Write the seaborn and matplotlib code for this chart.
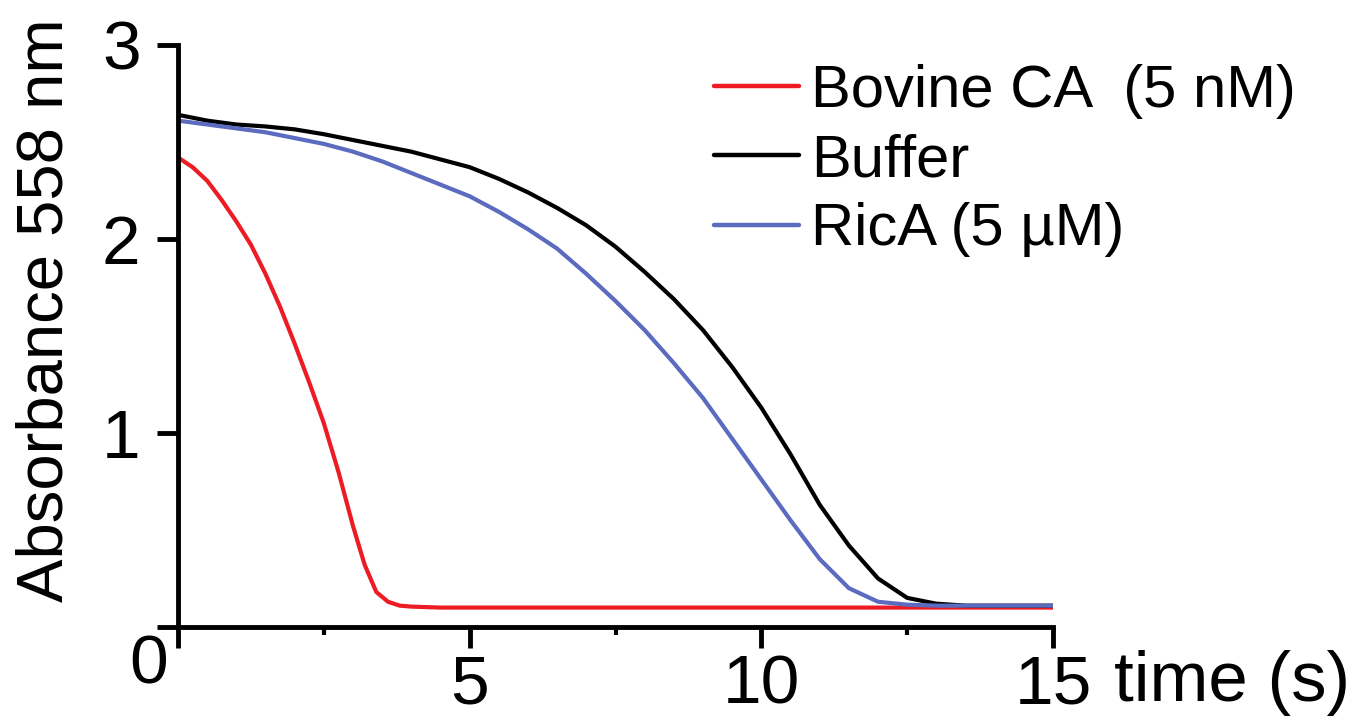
import numpy as np
import pandas as pd
import matplotlib
matplotlib.use('Agg')
import matplotlib.pyplot as plt
import seaborn as sns

# -----------------------------------------
# data (time in s, absorbance at 558 nm)
# -----------------------------------------
t_bovine = [0, 0.25, 0.5, 0.75, 1.0, 1.25, 1.5, 1.75, 2.0, 2.25, 2.5, 2.75, 3.0,
            3.2, 3.4, 3.6, 3.8, 4.0, 4.5, 5, 7.5, 10, 12.5, 15]
a_bovine = [2.42, 2.37, 2.30, 2.20, 2.09, 1.97, 1.82, 1.65, 1.46, 1.26, 1.05, 0.80, 0.52,
            0.32, 0.18, 0.13, 0.11, 0.105, 0.10, 0.10, 0.10, 0.10, 0.10, 0.10]

t_buffer = [0, 0.5, 1, 1.5, 2, 2.5, 3, 3.5, 4, 4.5, 5, 5.5, 6, 6.5, 7, 7.5, 8, 8.5,
            9, 9.5, 10, 10.5, 11, 11.5, 12, 12.5, 13, 13.5, 14, 15]
a_buffer = [2.64, 2.61, 2.59, 2.58, 2.565, 2.54, 2.51, 2.48, 2.45, 2.41, 2.37, 2.31, 2.24,
            2.16, 2.07, 1.96, 1.83, 1.69, 1.53, 1.34, 1.13, 0.89, 0.63, 0.42, 0.25, 0.15,
            0.12, 0.11, 0.11, 0.11]

t_rica = [0, 0.5, 1, 1.5, 2, 2.5, 3, 3.5, 4, 4.5, 5, 5.5, 6, 6.5, 7, 7.5, 8, 8.5,
          9, 9.5, 10, 10.5, 11, 11.5, 12, 12.5, 13, 14, 15]
a_rica = [2.61, 2.59, 2.57, 2.55, 2.52, 2.49, 2.45, 2.40, 2.34, 2.28, 2.22, 2.14, 2.05,
          1.95, 1.82, 1.68, 1.53, 1.36, 1.18, 0.97, 0.76, 0.55, 0.35, 0.20, 0.13, 0.115,
          0.11, 0.11, 0.11]

labels = ['Bovine CA  (5 nM)', 'Buffer', 'RicA (5 µM)']
colors = ['#ED1C24', '#000000', '#5B6BBF']

df = pd.concat([
    pd.DataFrame({'time': t_bovine, 'abs': a_bovine, 'sample': labels[0]}),
    pd.DataFrame({'time': t_buffer, 'abs': a_buffer, 'sample': labels[1]}),
    pd.DataFrame({'time': t_rica, 'abs': a_rica, 'sample': labels[2]}),
])

# -----------------------------------------
# figure
# -----------------------------------------
sns.set_style('ticks', rc={'axes.edgecolor': 'black', 'text.color': 'black',
                           'axes.labelcolor': 'black', 'xtick.color': 'black',
                           'ytick.color': 'black'})
plt.rcParams['font.family'] = ['Liberation Sans', 'DejaVu Sans']

fig = plt.figure(figsize=(13.6, 7.23), dpi=100)
ax = fig.add_axes([0.1309, 0.1328, 0.6434, 0.805])

sns.lineplot(data=df, x='time', y='abs', hue='sample', hue_order=labels,
             palette=dict(zip(labels, colors)), linewidth=3, ax=ax,
             estimator=None, sort=True)

ax.set_xlim(0, 15)
ax.set_ylim(0, 3)
sns.despine(ax=ax)
for s in ['left', 'bottom']:
    ax.spines[s].set_linewidth(3.5)

ax.set_xticks([0, 5, 10, 15])
ax.set_xticklabels(['', '5', '10', '15'])
ax.set_xticks([2.5, 7.5, 12.5], minor=True)
ax.set_yticks([0, 1, 2, 3])
ax.set_yticklabels(['', '1', '2', '3'])
ax.tick_params(axis='both', which='major', direction='out', length=15, width=3.5,
               labelsize=50, colors='black')
ax.tick_params(axis='x', which='major', pad=4)
ax.tick_params(axis='y', which='major', pad=12)
ax.tick_params(axis='x', which='minor', direction='out', length=6, width=3)

ax.set_xlabel('')
ax.set_ylabel('Absorbance 558 nm', fontsize=47)
ax.yaxis.set_label_coords(-0.1166, 0.545)

ax.text(-0.17, -0.20, '0', fontsize=50, ha='right', va='center', clip_on=False)
ax.text(16.05, -0.29, 'time (s)', fontsize=51, ha='left', va='center', clip_on=False)

leg = ax.legend(loc='upper left', bbox_to_anchor=(0.5252, 0.911), bbox_transform=fig.transFigure,
                frameon=False, fontsize=43, handlelength=1.42, handletextpad=0.2,
                labelspacing=0.235, borderaxespad=0, borderpad=0)
for h in leg.get_lines():
    h.set_linewidth(3.2)

fig.savefig('out.png', dpi=100)
